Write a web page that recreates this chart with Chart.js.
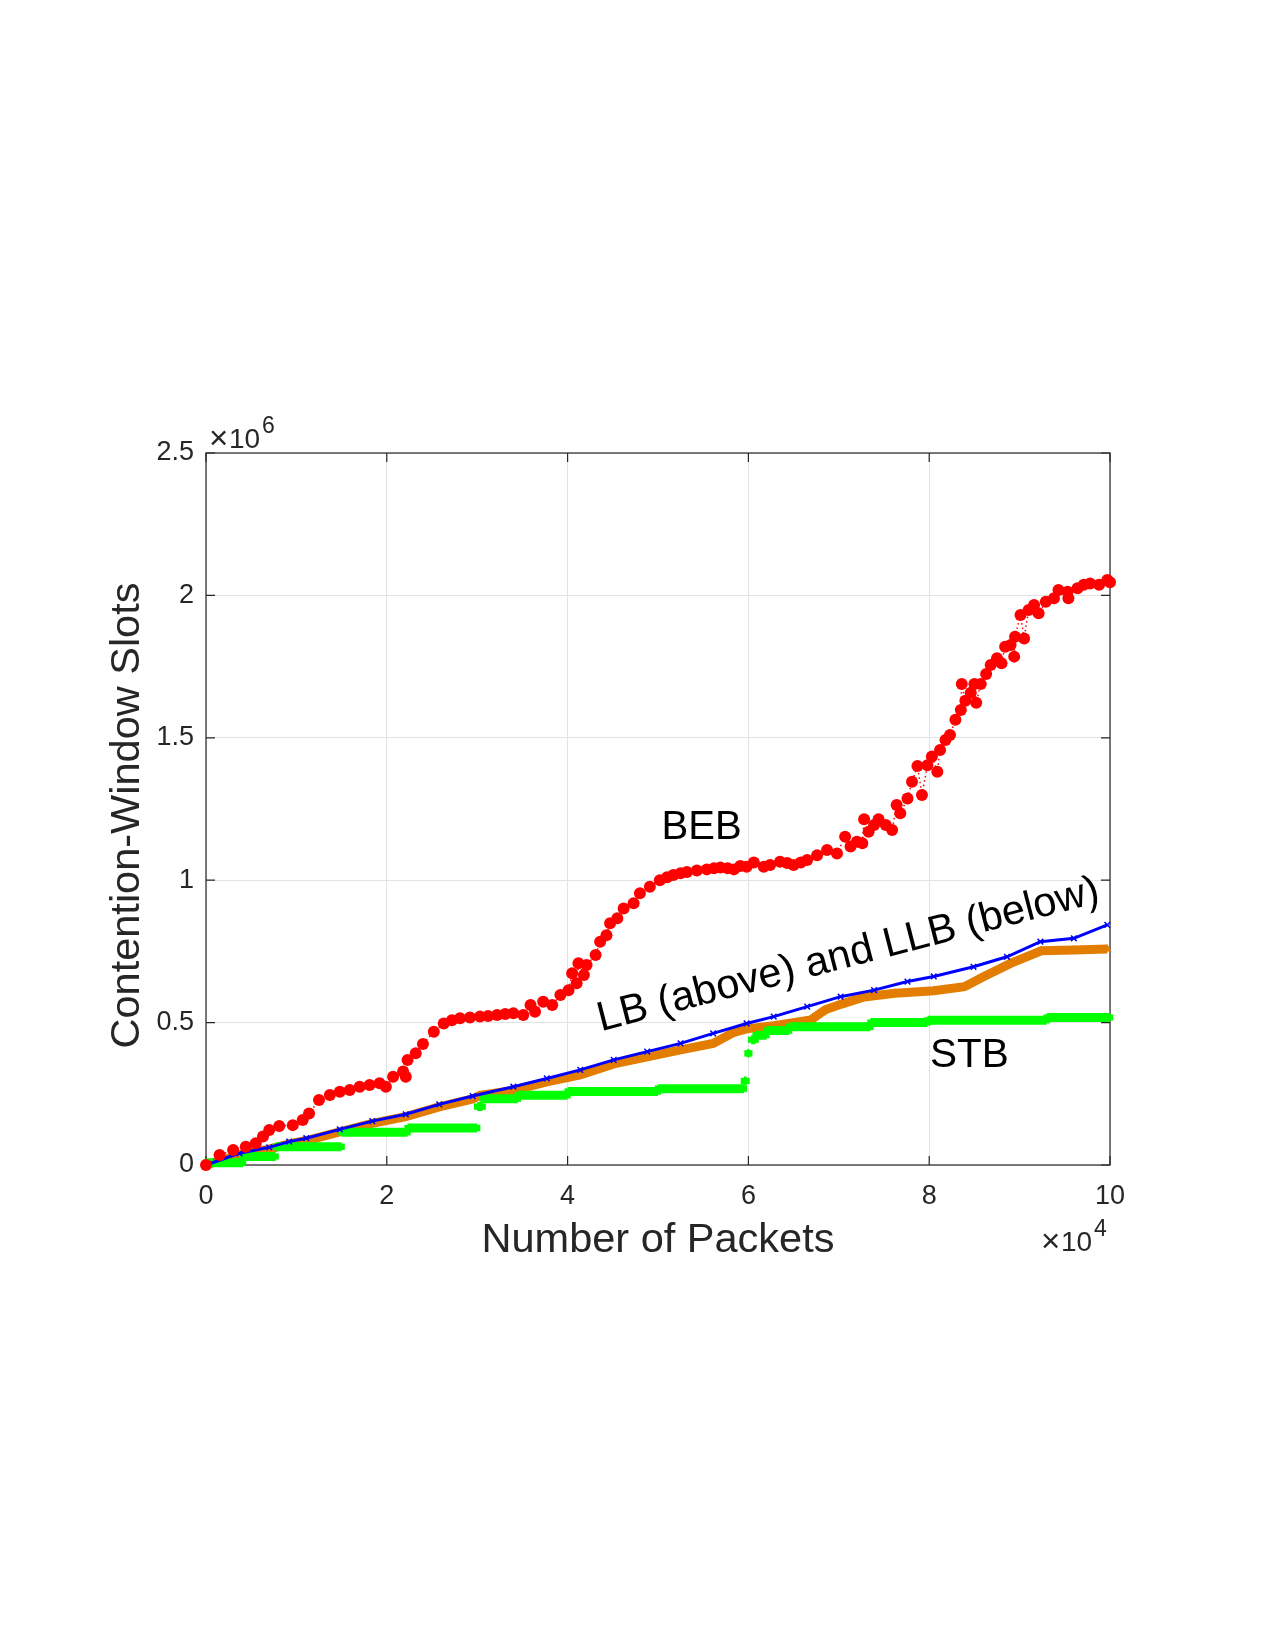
<!DOCTYPE html>
<html>
<head>
<meta charset="utf-8">
<script src="https://cdn.jsdelivr.net/npm/chart.js@4"></script>
<style>
  html, body { margin: 0; padding: 0; background: #fff; }
  canvas { display: block; }
</style>
</head>
<body>
<canvas id="cwChart" width="1275" height="1650"></canvas>
<script>
// Values: x in 1e4 packets, y in 1e6 slots
const xTicks = [0, 2, 4, 6, 8, 10];
const yTicks = [0, 0.5, 1, 1.5, 2, 2.5];

// BEB (red dots)
const bebX = [0,0.15,0.30,0.44,0.55,0.63,0.70,0.81,0.96,1.07,
  1.14,1.25,1.37,1.48,1.59,1.70,1.81,1.92,1.99,2.07,
  2.18,2.21,2.23,2.32,2.40,2.52,2.63,2.72,2.81,2.92,
  3.03,3.12,3.22,3.31,3.40,3.51,3.59,3.64,3.73,3.83,
  3.92,4.01,4.05,4.10,4.12,4.18,4.21,4.31,4.36,4.43,
  4.47,4.55,4.62,4.73,4.80,4.91,5.02,5.10,5.17,5.25,
  5.32,5.43,5.54,5.62,5.69,5.77,5.84,5.91,5.98,6.06,
  6.17,6.24,6.35,6.43,6.50,6.58,6.65,6.76,6.87,6.98,
  7.07,7.13,7.20,7.26,7.28,7.33,7.39,7.44,7.52,7.59,
  7.64,7.68,7.76,7.81,7.87,7.92,7.98,8.03,8.09,8.12,
  8.18,8.23,8.29,8.35,8.36,8.40,8.46,8.50,8.52,8.57,
  8.63,8.68,8.75,8.80,8.84,8.90,8.94,8.95,9.01,9.05,
  9.10,9.16,9.21,9.29,9.38,9.43,9.53,9.54,9.64,9.71,
  9.78,9.88,9.97,10.0];
const bebY = [0,0.035,0.053,0.064,0.076,0.100,0.123,0.137,0.140,0.158,
  0.181,0.228,0.246,0.257,0.263,0.275,0.281,0.287,0.275,0.310,
  0.328,0.310,0.369,0.392,0.425,0.468,0.497,0.508,0.515,0.518,
  0.521,0.523,0.527,0.530,0.533,0.527,0.562,0.538,0.573,0.562,
  0.597,0.614,0.673,0.638,0.708,0.667,0.702,0.737,0.784,0.807,
  0.849,0.866,0.901,0.919,0.954,0.977,1.000,1.010,1.018,1.024,
  1.029,1.034,1.038,1.042,1.045,1.042,1.038,1.050,1.047,1.062,
  1.047,1.053,1.065,1.060,1.053,1.062,1.071,1.088,1.106,1.094,
  1.153,1.118,1.135,1.130,1.214,1.170,1.194,1.214,1.194,1.176,
  1.264,1.235,1.287,1.346,1.401,1.299,1.404,1.434,1.381,1.457,
  1.492,1.510,1.563,1.598,1.689,1.630,1.658,1.689,1.623,1.689,
  1.724,1.756,1.779,1.762,1.820,1.826,1.785,1.855,1.931,1.849,
  1.949,1.966,1.937,1.978,1.990,2.019,2.013,1.990,2.025,2.037,
  2.042,2.037,2.054,2.046];

// LB (blue crosses)
const lbX = [0,0.37,0.70,0.92,1.11,1.48,1.84,2.21,2.58,2.95,3.40,3.77,4.14,4.51,4.88,
  5.25,5.61,5.98,6.28,6.65,7.02,7.39,7.76,8.05,8.49,8.86,9.23,9.60,9.97];
const lbY = [0,0.041,0.062,0.082,0.094,0.125,0.154,0.178,0.213,0.242,0.275,0.304,0.334,0.369,0.398,
  0.427,0.462,0.497,0.521,0.556,0.591,0.614,0.644,0.662,0.696,0.731,0.784,0.796,0.843];

// LLB (orange triangles)
const llbX = [0,0.37,0.70,0.92,1.11,1.48,1.84,2.21,2.58,2.95,3.03,3.40,3.77,4.14,4.51,4.88,
  5.25,5.61,5.84,5.98,6.32,6.69,6.85,7.03,7.28,7.62,8.05,8.39,8.60,8.90,9.24,9.60,9.97];
const llbY = [0,0.036,0.056,0.074,0.086,0.116,0.146,0.170,0.204,0.232,0.245,0.262,0.292,0.316,0.355,0.380,
  0.404,0.427,0.466,0.478,0.491,0.509,0.545,0.565,0.590,0.603,0.612,0.626,0.661,0.708,0.752,0.755,0.758];

// STB (green squares) as flat steps: from, to, level
const stbFrom  = [0, 0.41, 0.77, 1.50, 2.23, 3.00, 3.06, 3.45, 4.00, 5.00, 5.95, 5.99, 6.03, 6.08, 6.20, 6.45, 7.35, 7.98, 9.30];
const stbTo    = [0.41, 0.77, 1.50, 2.23, 3.00, 3.06, 3.45, 4.00, 5.00, 5.95, 5.98, 6.01, 6.08, 6.20, 6.45, 7.35, 7.98, 9.30, 10.0];
const stbLevel = [0.008, 0.030, 0.064, 0.115, 0.130, 0.205, 0.233, 0.245, 0.258, 0.268, 0.295, 0.392, 0.440, 0.456, 0.472, 0.485, 0.500, 0.508, 0.518];

const curveLabels = [
  { text: 'BEB', x: 5.04, y: 1.145, angle: 0, size: 40 },
  { text: 'LB (above) and LLB (below)', x: 4.37, y: 0.470, angle: -14.5, size: 41.5 },
  { text: 'STB', x: 8.01, y: 0.345, angle: 0, size: 40.5 }
];

const xTitle = 'Number of Packets';
const yTitle = 'Contention-Window Slots';

const FONT = '"Liberation Sans", Arial, Helvetica, sans-serif';
const AXIS_COLOR = '#262626';

function toPoints(xs, ys) {
  return xs.map((x, i) => ({ x: x, y: ys[i] }));
}

function stepPoints() {
  const pts = [];
  stbFrom.forEach((x0, i) => {
    pts.push({ x: x0, y: stbLevel[i] });
    pts.push({ x: stbTo[i], y: stbLevel[i] });
    pts.push({ x: stbTo[i], y: null });
  });
  return pts;
}

// "x10^n" exponent label, MATLAB style
function drawExponent(ctx, left, baseline, power) {
  ctx.font = '33px ' + FONT;
  ctx.fillText('\u00d7', left, baseline + 1);
  ctx.font = '28px ' + FONT;
  ctx.fillText('10', left + 20, baseline);
  ctx.font = '23px ' + FONT;
  ctx.fillText(power, left + 53, baseline - 15);
}

// box, inward ticks, exponent labels, y title and curve names
const matlabAxes = {
  id: 'matlabAxes',
  beforeDatasetsDraw(chart) {
    const { ctx, chartArea: a, scales: { x, y } } = chart;
    ctx.save();
    ctx.strokeStyle = AXIS_COLOR;
    ctx.lineWidth = 1.2;
    ctx.strokeRect(a.left, a.top, a.right - a.left, a.bottom - a.top);
    ctx.beginPath();
    xTicks.forEach(v => {
      const px = x.getPixelForValue(v);
      ctx.moveTo(px, a.bottom); ctx.lineTo(px, a.bottom - 9);
      ctx.moveTo(px, a.top); ctx.lineTo(px, a.top + 9);
    });
    yTicks.forEach(v => {
      const py = y.getPixelForValue(v);
      ctx.moveTo(a.left, py); ctx.lineTo(a.left + 9, py);
      ctx.moveTo(a.right, py); ctx.lineTo(a.right - 9, py);
    });
    ctx.stroke();
    ctx.restore();
  },
  afterDraw(chart) {
    const { ctx, chartArea: a, scales: { x, y } } = chart;
    ctx.save();
    ctx.fillStyle = AXIS_COLOR;
    ctx.textAlign = 'left';
    ctx.textBaseline = 'alphabetic';

    drawExponent(ctx, a.left + 3, a.top - 5, '6');
    drawExponent(ctx, a.right - 69, a.bottom + 86, '4');

    // y axis title
    ctx.save();
    ctx.font = '41.5px ' + FONT;
    ctx.textAlign = 'center';
    ctx.textBaseline = 'middle';
    ctx.translate(a.left - 78.5, (a.top + a.bottom) / 2 + 6.5);
    ctx.rotate(-Math.PI / 2);
    ctx.fillText(yTitle, 0, 0);
    ctx.restore();

    // curve names
    ctx.fillStyle = '#000';
    curveLabels.forEach(l => {
      ctx.save();
      ctx.font = l.size + 'px ' + FONT;
      ctx.translate(x.getPixelForValue(l.x), y.getPixelForValue(l.y));
      ctx.rotate(l.angle * Math.PI / 180);
      ctx.fillText(l.text, 0, 0);
      ctx.restore();
    });
    ctx.restore();
  }
};

new Chart(document.getElementById('cwChart'), {
  type: 'scatter',
  data: {
    datasets: [
      {
        label: 'BEB',
        data: toPoints(bebX, bebY),
        showLine: true,
        borderColor: '#ff0000',
        borderWidth: 1.5,
        borderDash: [1.5, 3],
        pointStyle: 'circle',
        pointRadius: 6,
        pointBackgroundColor: '#ff0000',
        pointBorderColor: '#ff0000',
        pointBorderWidth: 0,
        clip: false
      },
      {
        label: 'LB',
        data: toPoints(lbX, lbY),
        showLine: true,
        borderColor: '#0000ff',
        borderWidth: 3,
        pointStyle: 'crossRot',
        pointRadius: 4,
        pointBorderColor: '#0000ff',
        pointBorderWidth: 1.5,
        clip: false
      },
      {
        label: 'STB',
        data: stepPoints(),
        showLine: true,
        spanGaps: false,
        borderColor: '#00ff00',
        borderWidth: 9,
        borderCapStyle: 'butt',
        pointStyle: 'rect',
        pointRadius: 4.5,
        pointBackgroundColor: '#00ff00',
        pointBorderColor: '#00ff00',
        pointBorderWidth: 0,
        clip: false
      },
      {
        label: 'LLB',
        data: toPoints(llbX, llbY),
        showLine: true,
        borderColor: '#e37d00',
        borderWidth: 9,
        pointStyle: 'triangle',
        pointRadius: 5,
        pointBackgroundColor: '#e37d00',
        pointBorderColor: '#e37d00',
        pointBorderWidth: 0,
        clip: false
      }
    ]
  },
  options: {
    responsive: false,
    animation: false,
    events: [],
    layout: { padding: { top: 453, right: 165, bottom: 0, left: 0 } },
    plugins: {
      legend: { display: false },
      tooltip: { enabled: false }
    },
    scales: {
      x: {
        type: 'linear',
        min: 0,
        max: 10,
        afterFit: s => { s.height = 485; },
        border: { display: false },
        grid: { color: '#e3e3e3', lineWidth: 1, drawTicks: false },
        ticks: { stepSize: 2, padding: 15, color: AXIS_COLOR, font: { family: FONT, size: 27 },
          callback: v => String(v) },
        title: {
          display: true,
          text: xTitle,
          color: AXIS_COLOR,
          font: { family: FONT, size: 41.5, lineHeight: 1.2 },
          padding: { top: 0, bottom: 385 }
        }
      },
      y: {
        type: 'linear',
        min: 0,
        max: 2.5,
        afterFit: s => { s.width = 206; },
        border: { display: false },
        grid: { color: '#e3e3e3', lineWidth: 1, drawTicks: false },
        ticks: { stepSize: 0.5, padding: 12, color: AXIS_COLOR, font: { family: FONT, size: 27 },
          callback: v => String(v) },
        title: { display: false }
      }
    }
  },
  plugins: [matlabAxes]
});
</script>
</body>
</html>
